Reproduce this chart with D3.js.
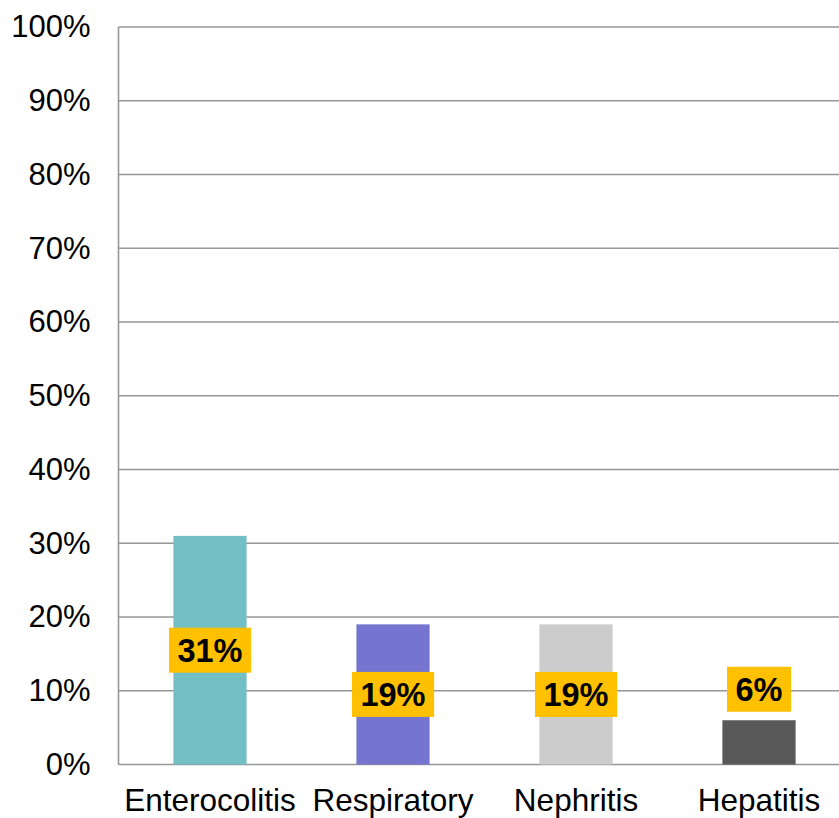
<!DOCTYPE html>
<html>
<head>
<meta charset="utf-8">
<script src="https://cdn.jsdelivr.net/npm/d3@7"></script>
<style>
  html, body { margin: 0; padding: 0; background: #fff; }
  svg { display: block; font-family: "Liberation Sans", Arial, sans-serif; }
</style>
</head>
<body>
<svg id="chart" width="839" height="818"></svg>
<script>
// Share of cases by affected organ system
const categories = ["Enterocolitis", "Respiratory", "Nephritis", "Hepatitis"];
const values = [31, 19, 19, 6];
const barColors = ["#72BFC4", "#7575CF", "#CCCCCC", "#595959"];
const tickValues = [0, 10, 20, 30, 40, 50, 60, 70, 80, 90, 100];

const svg = d3.select("#chart");
const plot = { left: 118.5, right: 850.5, top: 27, bottom: 764.5 };

const x = d3.scaleBand()
  .domain(categories)
  .range([plot.left, plot.right])
  .paddingInner(0.6)
  .paddingOuter(0.3);

const y = d3.scaleLinear()
  .domain([0, 100])
  .range([plot.bottom, plot.top]);

// Horizontal gridlines
svg.append("g")
  .selectAll("line")
  .data(tickValues)
  .join("line")
  .attr("x1", plot.left)
  .attr("x2", plot.right)
  .attr("y1", d => y(d))
  .attr("y2", d => y(d))
  .attr("stroke", "#969696")
  .attr("stroke-width", 1.6);

// Y-axis labels
const yAxis = d3.axisLeft(y)
  .tickValues(tickValues)
  .tickFormat(d => d + "%")
  .tickSize(0)
  .tickPadding(28);

svg.append("g")
  .attr("transform", `translate(${plot.left},0)`)
  .call(yAxis)
  .call(g => g.select(".domain").remove())
  .call(g => g.selectAll("text")
    .attr("font-size", 31)
    .attr("fill", "#000")
    .attr("font-family", "Liberation Sans, Arial, sans-serif"));

// Left axis line
svg.append("line")
  .attr("x1", plot.left).attr("x2", plot.left)
  .attr("y1", plot.top).attr("y2", plot.bottom)
  .attr("stroke", "#969696")
  .attr("stroke-width", 1.6);

// Bars
svg.append("g")
  .selectAll("rect")
  .data(values)
  .join("rect")
  .attr("x", (d, i) => x(categories[i]))
  .attr("width", x.bandwidth())
  .attr("y", d => y(d))
  .attr("height", d => y(0) - y(d))
  .attr("fill", (d, i) => barColors[i]);

// Category labels
const xAxis = d3.axisBottom(x).tickSize(0).tickPadding(24);
svg.append("g")
  .attr("transform", `translate(0,${plot.bottom})`)
  .call(xAxis)
  .call(g => g.select(".domain").remove())
  .call(g => g.selectAll("text")
    .attr("font-size", 31.5)
    .attr("fill", "#000")
    .attr("font-family", "Liberation Sans, Arial, sans-serif"));

// Value labels on yellow boxes: centred inside tall bars, above short ones
const labels = svg.append("g")
  .selectAll("g")
  .data(values)
  .join("g")
  .attr("transform", (d, i) => {
    const cx = x(categories[i]) + x.bandwidth() / 2;
    const h = y(0) - y(d);
    const cy = h > 60 ? y(d) + h / 2 : y(d) - 31;
    return `translate(${cx},${cy})`;
  });

labels.append("text")
  .attr("text-anchor", "middle")
  .attr("dy", "0.36em")
  .attr("font-size", 32.5)
  .attr("font-weight", "bold")
  .attr("fill", "#000")
  .text(d => d + "%");

labels.each(function() {
  const g = d3.select(this);
  const bb = g.select("text").node().getBBox();
  const padX = 8.5, h = 45;
  g.insert("rect", "text")
    .attr("x", bb.x - padX)
    .attr("y", -h / 2)
    .attr("width", bb.width + 2 * padX)
    .attr("height", h)
    .attr("fill", "#FFC000");
});
</script>
</body>
</html>
